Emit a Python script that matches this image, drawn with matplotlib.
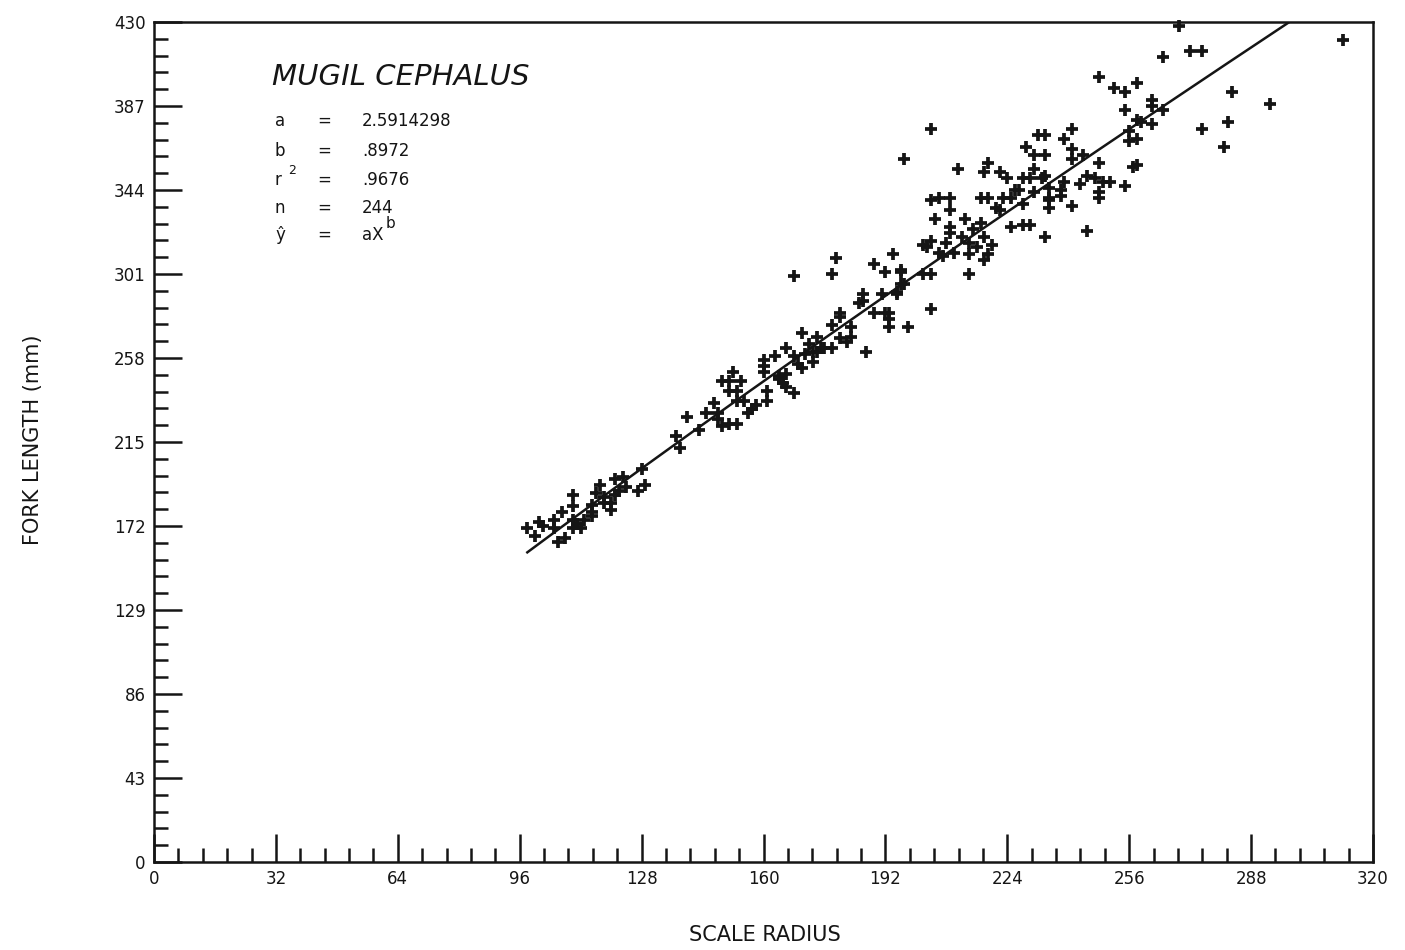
import numpy as np
import matplotlib
matplotlib.use("Agg")
import matplotlib.pyplot as plt
from matplotlib.ticker import MultipleLocator

# Scale radius (x) and fork length in mm (y) for each fish
scale_radius = [
    98, 100, 101, 102, 105, 105, 107, 106, 108, 110, 110, 110, 110, 111, 112, 113,
    115, 115, 115, 116, 117, 118, 118, 120, 120, 121, 122, 123, 124, 127, 129, 128, 121,
    137, 138, 140, 143, 145, 147, 148, 148, 149, 151, 153, 149, 151, 152, 154, 151,
    153, 153, 155, 156, 157, 158, 160, 160, 160, 163, 161, 161, 164, 164, 165, 166,
    166, 168, 166, 168, 169, 170, 171, 172, 173, 173, 174, 175,
    168, 179, 178, 170, 174, 176, 178, 178, 180, 180, 180, 183, 183, 182, 185, 186,
    186, 187, 189, 189, 191, 192, 193, 193, 193, 192, 194, 196, 195, 196, 198, 202,
    204, 204, 203,
    204, 197, 211, 219, 218, 222, 224, 228, 230, 229, 231, 232, 234, 231, 234, 233,
    227, 223, 225, 217, 219, 221, 222, 228, 231, 204, 206, 209, 209, 205, 213, 209,
    209, 212, 215, 217, 218, 225, 228, 230, 235, 235, 234, 204, 202, 208, 214, 220,
    216, 206, 207, 210, 214, 219, 218, 196, 214, 197, 195,
    248, 252, 255, 258, 255, 262, 262, 265, 258, 259, 262, 256, 256, 258, 257, 258,
    255, 241, 239, 241, 241, 244, 248, 234, 239, 243, 245, 247, 249, 251, 235, 238,
    238, 235, 241, 248, 248, 245, 226,
    269, 265, 272, 275, 312, 283, 293, 282, 275, 281,
]
fork_length = [
    171, 167, 174, 172, 175, 171, 179, 164, 166, 188, 182, 175, 171, 173, 171, 175,
    177, 179, 183, 189, 193, 187, 184, 184, 180, 196, 190, 197, 192, 190, 193, 201, 188,
    218, 212, 228, 221, 230, 235, 230, 227, 223, 224, 224, 246, 246, 251, 246, 241,
    241, 236, 236, 230, 232, 234, 257, 254, 251, 259, 241, 236, 249, 247, 245, 243,
    250, 240, 263, 259, 255, 253, 260, 265, 261, 256, 261, 263,
    300, 309, 301, 271, 269, 263, 263, 275, 281, 279, 268, 274, 269, 266, 286, 291,
    287, 261, 306, 281, 291, 281, 281, 278, 274, 302, 311, 302, 291, 296, 274, 301,
    301, 283, 315,
    375, 360, 355, 358, 353, 353, 350, 350, 350, 366, 362, 372, 372, 355, 362, 350,
    344, 340, 340, 340, 340, 335, 334, 337, 343, 339, 340, 340, 334, 329, 329, 325,
    322, 320, 324, 327, 320, 325, 326, 326, 339, 335, 320, 318, 316, 317, 317, 316,
    315, 312, 310, 312, 311, 311, 308, 303, 301, 296, 292,
    402, 396, 394, 399, 385, 390, 387, 385, 380, 379, 378, 374, 369, 370, 356, 357,
    346, 375, 370, 365, 360, 362, 358, 351, 348, 347, 351, 350, 348, 348, 345, 344,
    341, 340, 336, 343, 340, 323, 344,
    428, 412, 415, 415, 421, 394, 388, 379, 375, 366,
]

# Fitted power curve  y = a * X^b
coef_a = 2.5914298
coef_b = 0.8972
r_squared = ".9676"
n_fish = "244"
fit_x_start = 98

x_ticks = [0, 32, 64, 96, 128, 160, 192, 224, 256, 288, 320]
y_ticks = [0, 43, 86, 129, 172, 215, 258, 301, 344, 387, 430]

W, H = 1405, 950
fig = plt.figure(figsize=(W / 100, H / 100), dpi=100)
fig.patch.set_facecolor("white")
ax = fig.add_axes([154 / W, 1 - 862 / H, (1373 - 154) / W, (862 - 22) / H])

ink = "#151515"
ax.set_xlim(0, 320)
ax.set_ylim(0, 430)
for side in ax.spines.values():
    side.set_linewidth(1.8)
    side.set_color(ink)

ax.xaxis.set_minor_locator(MultipleLocator(6.4))
ax.yaxis.set_minor_locator(MultipleLocator(8.6))
ax.set_xticks(x_ticks)
ax.set_yticks(y_ticks)
ax.set_xticklabels([str(v) for v in x_ticks])
ax.set_yticklabels([str(v) for v in y_ticks])
ax.tick_params(which="both", direction="in", top=False, right=False,
               width=1.8, color=ink, labelcolor=ink, labelsize=12)
ax.tick_params(which="major", length=20)
ax.tick_params(which="minor", length=10)
ax.tick_params(axis="x", pad=6)
ax.tick_params(axis="y", pad=6)

ax.plot(scale_radius, fork_length, linestyle="none", marker="+",
        markersize=8, markeredgewidth=2.7, color=ink, clip_on=False)

x_end = (430 / coef_a) ** (1 / coef_b)
fit_x = np.linspace(fit_x_start, x_end, 200)
ax.plot(fit_x, coef_a * fit_x ** coef_b, color=ink, linewidth=1.8)

def px(x, y):
    return x / W, 1 - y / H

fig.text(*px(272, 77), "MUGIL CEPHALUS", fontsize=21, style="italic",
         va="center", ha="left", color=ink)

rows = [("a", "2.5914298", 121), ("b", ".8972", 151), ("r", r_squared, 180),
        ("n", n_fish, 208), ("\u0177", "aX", 235)]
for sym, val, yy in rows:
    fig.text(*px(275, yy), sym, fontsize=12, va="center", ha="left", color=ink)
    fig.text(*px(317, yy), "=", fontsize=12, va="center", ha="left", color=ink)
    fig.text(*px(362, yy), val, fontsize=12, va="center", ha="left", color=ink)
fig.text(*px(288, 171), "2", fontsize=9, va="center", ha="left", color=ink)
fig.text(*px(386, 224), "b", fontsize=11, va="center", ha="left", color=ink)

fig.text(*px(765, 935), "SCALE RADIUS", fontsize=15, va="center", ha="center", color=ink)
fig.text(*px(33, 440), "FORK LENGTH (mm)", fontsize=15, rotation=90,
         va="center", ha="center", color=ink)

fig.savefig("out.png", dpi=100, facecolor="white")
